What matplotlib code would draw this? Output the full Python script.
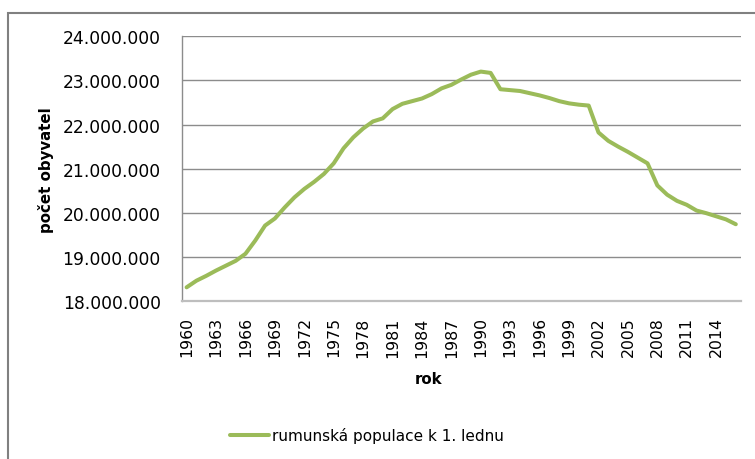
import matplotlib
matplotlib.use("Agg")
import matplotlib.pyplot as plt
from matplotlib.ticker import FuncFormatter
from matplotlib.patches import Rectangle

years = list(range(1960, 2017))
population = [
    18310000, 18460000, 18570000, 18690000, 18800000, 18910000, 19070000, 19370000,
    19710000, 19870000, 20120000, 20350000, 20540000, 20700000, 20880000, 21120000,
    21460000, 21710000, 21910000, 22070000, 22140000, 22350000, 22470000, 22530000,
    22590000, 22690000, 22820000, 22900000, 23020000, 23130000, 23200000, 23170000,
    22800000, 22780000, 22760000, 22710000, 22660000, 22600000, 22530000, 22480000,
    22450000, 22430000, 21820000, 21630000, 21500000, 21380000, 21250000, 21120000,
    20620000, 20410000, 20270000, 20180000, 20050000, 19990000, 19920000, 19850000,
    19740000,
]
tick_years = list(range(1960, 2015, 3))
series_label = "rumunská populace k 1. lednu"
x_title = "rok"
y_title = "počet obyvatel"

W, H = 755, 460
fig = plt.figure(figsize=(W / 100, H / 100), dpi=100)
ax = fig.add_axes([181.7 / W, 1 - 302 / H, 559 / W, 264.7 / H])

ax.plot(years, population, color="#9BBB59", lw=2.9, label=series_label,
        solid_joinstyle="round", solid_capstyle="round")

ax.set_xlim(1959.5, 2016.5)
ax.set_ylim(18000000, 24000000)
ax.set_yticks(range(18000000, 24000001, 1000000))
ax.yaxis.set_major_formatter(FuncFormatter(lambda v, p: f"{int(v):,}".replace(",", ".")))
ax.set_xticks(tick_years)
ax.set_xticklabels([str(y) for y in tick_years], rotation=90)

ax.grid(axis="y", color="#8C8C8C", lw=1.0)
ax.set_axisbelow(True)
for s in ["top", "right"]:
    ax.spines[s].set_visible(False)
ax.spines["left"].set_color("#8C8C8C")
ax.spines["left"].set_linewidth(1.0)
ax.spines["bottom"].set_color("#BEBEBE")
ax.spines["bottom"].set_linewidth(1.6)

ax.tick_params(axis="y", length=0, pad=15, labelsize=12.3, labelcolor="#000000")
ax.tick_params(axis="x", length=0, pad=11, labelsize=11.3, labelcolor="#000000")

fig.text(45.5 / W, 1 - 170 / H, y_title, rotation=90, ha="center", va="center",
         fontsize=10.8, fontweight="bold")
fig.text(429 / W, 1 - 380 / H, x_title, ha="center", va="center",
         fontsize=10.8, fontweight="bold")

fig.legend(loc="center left", bbox_to_anchor=(230 / W, 1 - 436 / H), frameon=False,
           fontsize=11, handlelength=2.55, handletextpad=0.2, borderpad=0,
           borderaxespad=0)

fig.add_artist(Rectangle((7.5 / W, -0.1), 2.0, (H - 13.5) / H + 0.1,
                         transform=fig.transFigure, fill=False,
                         edgecolor="#808080", lw=1.5))

fig.savefig("out.png", dpi=100)
